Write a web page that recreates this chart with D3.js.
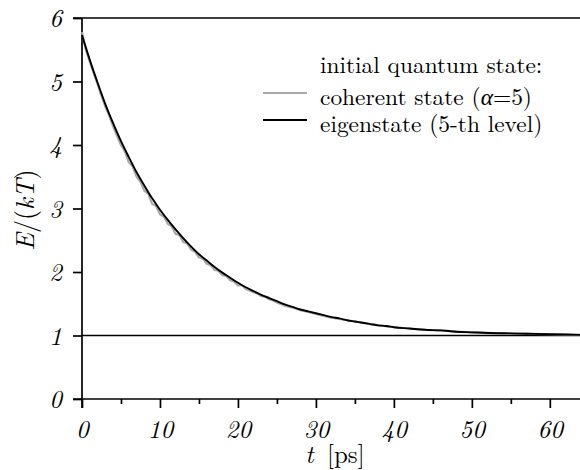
<!DOCTYPE html>
<html><head><meta charset="utf-8">
<script src="https://cdn.jsdelivr.net/npm/d3@7"></script>
<style>
html,body{margin:0;padding:0;background:#fff;}
svg{display:block;}
</style></head>
<body>
<svg id="c" width="580" height="470"></svg>
<script>
const FONT = "'Latin Modern Roman','Liberation Serif',serif";
// time axis ticks and labels
const xTicks = [0,10,20,30,40,50,60];
const xMinorTicks = [5,15,25,35,45,55];
const yTicks = [0,1,2,3,4,5,6];

// eigenstate (5-th level): E/(kT) vs t [ps]
const eigT = [0,1,2,3,4,5,6,7,8,9,10,11,12,13,14,15,16,17,18,19,20,21,22,23,24,25,26,27,28,29,30,31,32,33,34,35,36,37,38,39,40,42,44,46,48,50,52,54,56,58,60,62,64];
const eigE = [5.73,5.34,4.98,4.64,4.34,4.06,3.81,3.57,3.36,3.16,2.98,2.82,2.67,2.53,2.40,2.28,2.18,2.08,1.99,1.91,1.83,1.76,1.70,1.64,1.59,1.54,1.49,1.45,1.41,1.38,1.35,1.32,1.29,1.27,1.24,1.22,1.20,1.18,1.16,1.15,1.13,1.11,1.09,1.08,1.06,1.05,1.04,1.035,1.03,1.025,1.02,1.015,1.01];

// coherent state (alpha=5): noisier trace
const cohT = [0,0.5,1,1.5,2,2.5,3,3.5,4,4.5,5,5.5,6,6.5,7,7.5,8,8.5,9,9.5,10,10.5,11,11.5,12,12.5,13,13.5,14,14.5,15,15.5,16,16.5,17,17.5,18,18.5,19,19.5,20,20.5,21,21.5,22,22.5,23,23.5,24,24.5,25,26,27,28,29,30,31,32,33,34,35,36,38,40,42,44,46,48,50,52,54,56,58,60,62,64];
const cohE = [5.78,5.50,5.31,5.13,4.96,4.77,4.60,4.46,4.29,4.14,4.00,3.90,3.73,3.66,3.50,3.42,3.28,3.23,3.07,3.04,2.91,2.87,2.76,2.72,2.60,2.58,2.47,2.45,2.35,2.32,2.23,2.21,2.13,2.11,2.03,2.02,1.95,1.94,1.87,1.85,1.79,1.79,1.73,1.71,1.68,1.66,1.62,1.61,1.57,1.55,1.52,1.47,1.44,1.40,1.37,1.34,1.31,1.28,1.26,1.24,1.22,1.20,1.16,1.13,1.11,1.09,1.08,1.06,1.05,1.04,1.035,1.03,1.025,1.02,1.015,1.01];

const legendTitle = "initial quantum state:";
const legendItems = [
  {parts:[["coherent state (",false],["\u03B1",true],["=5)",false]], color:"#a8a8a8"},
  {parts:[["eigenstate (5-th level)",false]], color:"#000"}
];

const svg = d3.select("#c");
const x = d3.scaleLinear().domain([0,64]).range([82,581]);
const y = d3.scaleLinear().domain([0,6]).range([399,18]);

svg.append("line").attr("x1",73).attr("x2",580).attr("y1",y(6)).attr("y2",y(6)).attr("stroke","#000").attr("stroke-width",1.7);
svg.append("line").attr("x1",73).attr("x2",580).attr("y1",y(0)).attr("y2",y(0)).attr("stroke","#000").attr("stroke-width",1.7);
svg.append("line").attr("x1",x(0)).attr("x2",580).attr("y1",y(1)).attr("y2",y(1)).attr("stroke","#000").attr("stroke-width",1.7);

// y axis
const yAxis = d3.axisLeft(y).tickValues(yTicks).tickSize(9).tickPadding(11).tickFormat(d3.format("d"));
const gy = svg.append("g").attr("transform",`translate(${x(0)},0)`).call(yAxis);
gy.attr("font-family",FONT);
gy.select(".domain").remove();
gy.selectAll(".tick line").attr("stroke-width",1.7);
gy.selectAll(".tick text").attr("font-family",FONT).style("font-size","25px").style("font-style","italic").attr("dy","0.34em");
svg.append("line").attr("x1",x(0)).attr("x2",x(0)).attr("y1",y(6)).attr("y2",408).attr("stroke","#000").attr("stroke-width",1.7);

// x axis
const xAxis = d3.axisBottom(x).tickValues(xTicks).tickSize(9).tickPadding(12).tickFormat(d3.format("d"));
const gx = svg.append("g").attr("transform",`translate(0,${y(0)})`).call(xAxis);
gx.attr("font-family",FONT);
gx.select(".domain").remove();
gx.selectAll(".tick line").attr("stroke-width",1.7);
gx.selectAll(".tick text").attr("font-family",FONT).style("font-size","25px").style("font-style","italic");
const xMinor = d3.axisBottom(x).tickValues(xMinorTicks).tickSize(5).tickFormat("");
const gm = svg.append("g").attr("transform",`translate(0,${y(0)})`).call(xMinor);
gm.select(".domain").remove();
gm.selectAll(".tick line").attr("stroke-width",1.7);

// curves
const line = d3.line().x(d=>x(d[0])).y(d=>y(d[1]));
svg.append("path").datum(cohT.map((t,i)=>[t,cohE[i]])).attr("d",line)
  .attr("fill","none").attr("stroke",legendItems[0].color).attr("stroke-width",2.2);
svg.append("path").datum(eigT.map((t,i)=>[t,eigE[i]])).attr("d",d3.line().curve(d3.curveMonotoneX).x(d=>x(d[0])).y(d=>y(d[1])))
  .attr("fill","none").attr("stroke",legendItems[1].color).attr("stroke-width",1.9);

// legend
const lg = svg.append("g").attr("font-family",FONT);
lg.append("text").attr("x",320).attr("y",73).attr("font-family",FONT).style("font-size","23.4px").text(legendTitle);
legendItems.forEach((it,i)=>{
  const yy = 93 + i*27;
  lg.append("line").attr("x1",263).attr("x2",307).attr("y1",yy).attr("y2",yy).attr("stroke",it.color).attr("stroke-width",i===0?2:1.9);
  const t = lg.append("text").attr("x",320).attr("y",yy+12).attr("font-family",FONT).style("font-size","23.4px");
  it.parts.forEach(p=>t.append("tspan").style("font-style",p[1]?"italic":"normal").text(p[0]));
});

// axis titles
const yl = svg.append("text").attr("transform","translate(34,210) rotate(-90)").attr("text-anchor","middle").attr("font-family",FONT).style("font-size","26px");
yl.append("tspan").style("font-style","italic").text("E");
yl.append("tspan").text("/(");
yl.append("tspan").style("font-style","italic").text("kT");
yl.append("tspan").text(")");
const xl = svg.append("text").attr("x",335).attr("y",463).attr("text-anchor","middle").attr("font-family",FONT).style("font-size","25px");
xl.append("tspan").style("font-style","italic").text("t");
xl.append("tspan").text("\u2009 [ps]");
</script>
</body></html>
